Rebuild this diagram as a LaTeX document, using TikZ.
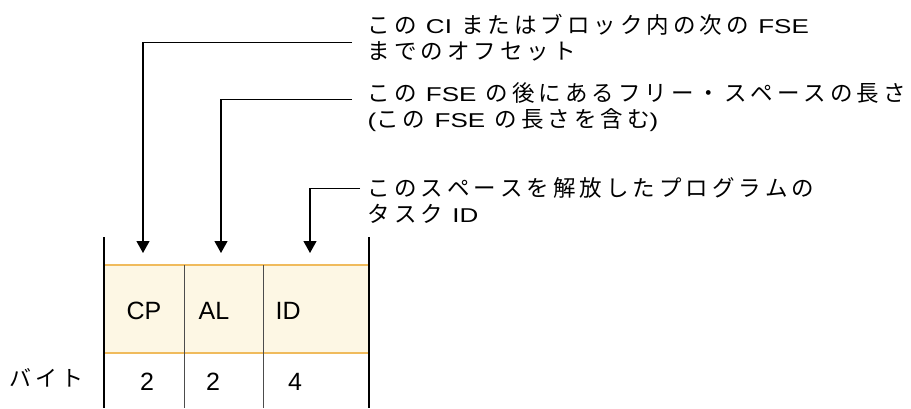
\documentclass[tikz,border=0pt]{standalone}
\usepackage{fontspec}
\setmainfont{Liberation Sans}
\newfontfamily\notefont[FakeStretch=1.3, WordSpace=1.3]{Liberation Sans}
\newfontfamily\jafont{Noto Sans CJK JP}
\newcommand\ja[1]{{\fontsize{22.5}{26}\jafont #1}}
\newcount\jachar
\jachar="3041
\loop \XeTeXcharclass\jachar=4 \advance\jachar by 1 \ifnum\jachar<"3100 \repeat
\XeTeXcharclass`内=4 \XeTeXcharclass`次=4 \XeTeXcharclass`後=4 \XeTeXcharclass`長=4
\XeTeXcharclass`含=4 \XeTeXcharclass`解=4 \XeTeXcharclass`放=4
\XeTeXinterchartokenstate=1
\XeTeXinterchartoks 4 4 = {\hskip4pt\relax}
\usetikzlibrary{arrows.meta,positioning,calc}
\definecolor{fsefill}{RGB}{253,247,228}
\definecolor{fseedge}{RGB}{240,187,92}

\begin{document}
\begin{tikzpicture}[x=1pt, y=-1pt, >={Triangle[width=13pt,length=12pt]}, line width=1.2pt,
  note/.style={anchor=base west, inner sep=0pt, align=left, font=\fontsize{20}{26}\notefont},
  field/.style={inner sep=0pt, font=\fontsize{25}{30}\selectfont},
  rule/.style={line width=1.3pt}]
  \useasboundingbox (0,0) rectangle (911,408);
  \fill[fsefill] (104,265) rectangle (369,353);
  \draw[fseedge, line width=1.6pt] (104,265) -- (369,265) (104,353) -- (369,353);
  \draw[rule] (104,237) -- (104,408) (369,237) -- (369,408);
  \draw[rule, black!70, line width=1pt] (184,265) -- (184,408) (263,265) -- (263,408);

  \node[field, anchor=base] (cp) at (144,319.5) {CP};
  \node[field, anchor=base west] (al) at (198,319.5) {AL};
  \node[field, anchor=base west] (id) at (275,319.5) {ID};
  \node[field, anchor=base] (cpsize) at (147,390) {2};
  \node[field, anchor=base] (alsize) at (213,390) {2};
  \node[field, anchor=base] (idsize) at (295,390) {4};
  \node[anchor=base west, inner sep=0pt, font=\fontsize{22}{26}\jafont] (bytes) at (9,386) {バイト};

  \node[note] (offset) at (367,59) {\ja{この} CI \ja{またはブロック内の次の} FSE\\\ja{までのオフセット}};
  \node[note] (length) at (367,127) {\ja{この} FSE \ja{の後にあるフリー・スペースの長さ}\\(\ja{この} FSE \ja{の長さを含む})};
  \node[note] (task) at (367,222) {\ja{このスペースを解放したプログラムの}\\\ja{タスク} ID};

  \coordinate (offsetk) at (352,42.7);
  \coordinate (lengthk) at (352,99.3);
  \coordinate (taskk) at (360,188.3);
  \coordinate (cptip) at (143,253);
  \coordinate (altip) at (221,253);
  \coordinate (idtip) at (310,253);
  \draw[->] (offsetk) -| (cptip);
  \draw[->] (lengthk) -| (altip);
  \draw[->] (taskk) -| (idtip);
\end{tikzpicture}
\end{document}
